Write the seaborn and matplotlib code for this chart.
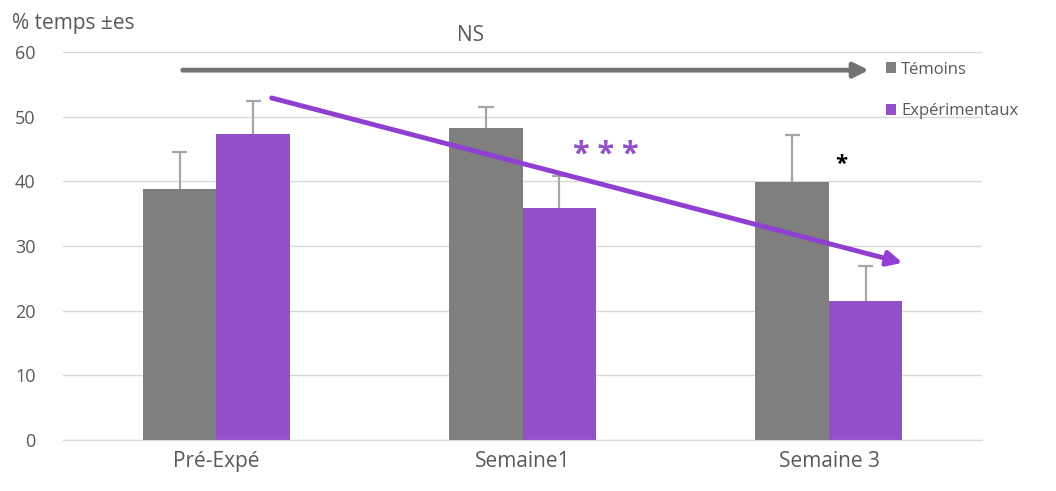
import matplotlib.pyplot as plt
import numpy as np
import pandas as pd
import seaborn as sns

categories = ["Pré-Expé", "Semaine1", "Semaine 3"]
groups = ["Témoins", "Expérimentaux"]
temoins = [38.8, 48.2, 39.9]
temoins_err = [5.7, 3.3, 7.2]
experimentaux = [47.3, 35.9, 21.5]
experimentaux_err = [5.1, 4.9, 5.4]

GRAY = "#7f7f7f"
PURPLE = "#9450c8"
ARROW_PURPLE = "#8f3fd2"
TEXT = "#595959"

df = pd.DataFrame(
    {
        "categorie": categories * 2,
        "groupe": [groups[0]] * 3 + [groups[1]] * 3,
        "valeur": temoins + experimentaux,
        "err": temoins_err + experimentaux_err,
    }
)

sns.set_style("white")
plt.rcParams["font.family"] = ["Open Sans", "DejaVu Sans"]

fig = plt.figure(figsize=(10.56, 4.91), dpi=100)
ax = fig.add_axes([0.060, 0.104, 0.870, 0.790])

sns.barplot(
    data=df,
    x="categorie",
    y="valeur",
    hue="groupe",
    hue_order=groups,
    palette=[GRAY, PURPLE],
    width=0.48,
    gap=0,
    errorbar=None,
    saturation=1,
    linewidth=0,
    ax=ax,
    zorder=2,
)

# upper error bars only (no lower cap)
for patch, (_, row) in zip(ax.patches, df.iterrows()):
    xc = patch.get_x() + patch.get_width() / 2
    top = row["valeur"] + row["err"]
    ax.vlines(xc, row["valeur"], top, color="#a6a6a6", lw=1.6, zorder=1)
    ax.hlines(top, xc - 0.025, xc + 0.025, color="#a6a6a6", lw=1.6, zorder=1)

ax.set_ylim(0, 60)
ax.set_xlim(-0.5, 2.5)
ax.set_yticks(np.arange(0, 61, 10))
ax.yaxis.grid(True, color="#d9d9d9", linewidth=1)
ax.set_axisbelow(True)
for s in ["top", "right", "left"]:
    ax.spines[s].set_visible(False)
ax.spines["bottom"].set_color("#d9d9d9")
ax.tick_params(axis="y", colors=TEXT, labelsize=13, length=0, pad=20)
ax.tick_params(axis="x", colors=TEXT, labelsize=15, length=0, pad=8)
ax.set_xlabel("")
ax.set_ylabel("")

# arrows and annotations
ax.annotate("", xy=(2.13, 57.2), xytext=(-0.11, 57.2),
            arrowprops=dict(arrowstyle="-|>", color="#737373", lw=3.5,
                            mutation_scale=22, shrinkA=0, shrinkB=0),
            annotation_clip=False)
ax.annotate("", xy=(2.24, 27.4), xytext=(0.18, 52.9),
            arrowprops=dict(arrowstyle="-|>", color=ARROW_PURPLE, lw=3.5,
                            mutation_scale=22, shrinkA=0, shrinkB=0),
            zorder=4)
ax.text(0.83, 62.6, "NS", color=TEXT, fontsize=15, ha="center", va="center",
        clip_on=False)
ax.text(1.27, 44.0, "* * *", color=PURPLE, fontsize=22, fontweight="bold",
        ha="center", va="center")
ax.text(2.04, 42.6, "*", color="black", fontsize=16, fontweight="bold",
        ha="center", va="center")

fig.text(0.011, 0.953, "% temps ±es", color=TEXT, fontsize=15, ha="left", va="center")

leg = ax.legend(
    loc="upper left", bbox_to_anchor=(0.825, 0.905), bbox_transform=fig.transFigure,
    frameon=False, fontsize=12, handlelength=0.6, handleheight=0.6,
    handletextpad=0.3, labelspacing=1.55,
)
for t in leg.get_texts():
    t.set_color(TEXT)

fig.savefig("out.png", dpi=100)
